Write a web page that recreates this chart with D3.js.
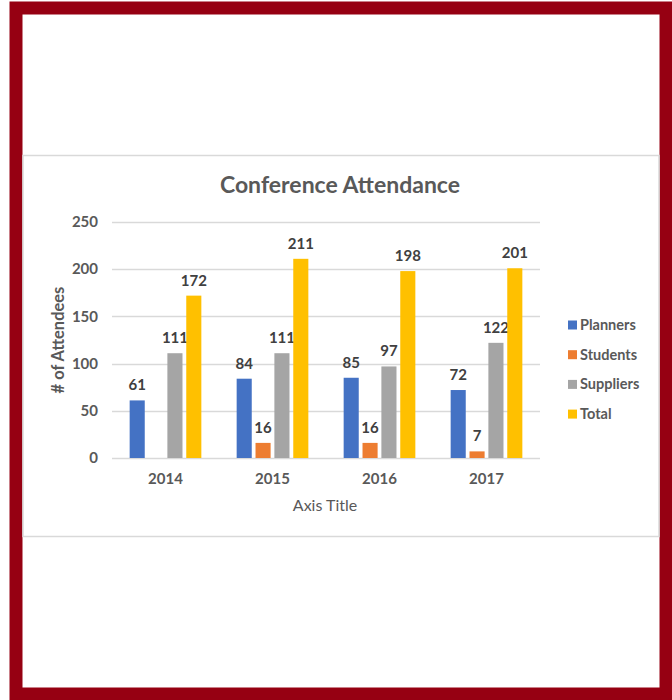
<!DOCTYPE html>
<html>
<head>
<meta charset="utf-8">
<script src="https://d3js.org/d3.v7.min.js"></script>
<style>
  body { margin: 0; background: #fff; }
  svg { display: block; }
  text { font-family: Lato, "Open Sans", sans-serif; }
</style>
</head>
<body>
<svg id="chart" width="672" height="700"></svg>
<script>
// chart data
const years = ["2014", "2015", "2016", "2017"];
const seriesNames = ["Planners", "Students", "Suppliers", "Total"];
const planners = [61, 84, 85, 72];
const students = [null, 16, 16, 7];
const suppliers = [111, 111, 97, 122];
const totals = [172, 211, 198, 201];
const yTicks = [0, 50, 100, 150, 200, 250];

const colors = ["#4472C4", "#ED7D31", "#A5A5A5", "#FFC000"];
const seriesValues = [planners, students, suppliers, totals];

const svg = d3.select("#chart");

// page frame (dark red border)
svg.append("rect")
    .attr("x", 16).attr("y", 8)
    .attr("width", 650).attr("height", 686)
    .attr("fill", "#fff")
    .attr("stroke", "#960012")
    .attr("stroke-width", 13);

// chart area box
svg.append("rect")
    .attr("x", 23).attr("y", 155.5)
    .attr("width", 636).attr("height", 381)
    .attr("fill", "#fff")
    .attr("stroke", "#d9d9d9")
    .attr("stroke-width", 1.5);

const plot = { left: 112, right: 540, top: 222, bottom: 458 };

const x0 = d3.scaleBand()
    .domain(years)
    .range([plot.left, plot.right])
    .paddingInner(0.33)
    .paddingOuter(0.165);

const x1 = d3.scaleBand()
    .domain(seriesNames)
    .range([0, x0.bandwidth()])
    .paddingInner(0.2);

const y = d3.scaleLinear()
    .domain([0, 250])
    .range([plot.bottom, plot.top]);

// gridlines
svg.append("g")
    .selectAll("line")
    .data(yTicks)
    .join("line")
    .attr("x1", plot.left).attr("x2", plot.right)
    .attr("y1", d => Math.round(y(d)) + 0.5)
    .attr("y2", d => Math.round(y(d)) + 0.5)
    .attr("stroke", "#d9d9d9")
    .attr("stroke-width", 1.5);

// y tick labels
svg.append("g")
    .selectAll("text")
    .data(yTicks)
    .join("text")
    .attr("x", 98)
    .attr("y", d => y(d))
    .attr("dy", "0.35em")
    .attr("text-anchor", "end")
    .attr("font-size", 15)
    .attr("font-weight", "bold")
    .attr("fill", "#595959")
    .text(d => d);

// bars + labels
seriesNames.forEach((name, si) => {
    const g = svg.append("g");
    const pts = years.map((yr, i) => ({ yr, v: seriesValues[si][i] })).filter(d => d.v != null);
    g.selectAll("rect")
        .data(pts)
        .join("rect")
        .attr("x", d => x0(d.yr) + x1(name))
        .attr("y", d => y(d.v))
        .attr("width", x1.bandwidth())
        .attr("height", d => y(0) - y(d.v))
        .attr("fill", colors[si]);
    g.selectAll("text")
        .data(pts)
        .join("text")
        .attr("x", d => x0(d.yr) + x1(name) + x1.bandwidth() / 2)
        .attr("y", d => y(d.v) - 10)
        .attr("text-anchor", "middle")
        .attr("font-size", 15)
        .attr("font-weight", "bold")
        .attr("fill", "#404040")
        .text(d => d.v);
});

// x tick labels
svg.append("g")
    .selectAll("text")
    .data(years)
    .join("text")
    .attr("x", d => x0(d) + x0.bandwidth() / 2)
    .attr("y", 484)
    .attr("text-anchor", "middle")
    .attr("font-size", 15)
    .attr("font-weight", "bold")
    .attr("fill", "#595959")
    .text(d => d);

// title
svg.append("text")
    .attr("x", 340).attr("y", 193)
    .attr("text-anchor", "middle")
    .attr("font-size", 23)
    .attr("font-weight", "bold")
    .attr("fill", "#595959")
    .text("Conference Attendance");

// axis titles
svg.append("text")
    .attr("x", 325).attr("y", 511)
    .attr("text-anchor", "middle")
    .attr("font-size", 16)
    .attr("fill", "#595959")
    .text("Axis Title");

svg.append("text")
    .attr("transform", "translate(64,340) rotate(-90)")
    .attr("text-anchor", "middle")
    .attr("font-size", 16.5)
    .attr("font-weight", "bold")
    .attr("fill", "#595959")
    .text("# of Attendees");

// legend
const legend = svg.append("g")
    .selectAll("g")
    .data(seriesNames)
    .join("g")
    .attr("transform", (d, i) => `translate(568,${325 + i * 29.7})`);

legend.append("rect")
    .attr("x", 0).attr("y", -4.5)
    .attr("width", 9).attr("height", 9)
    .attr("fill", (d, i) => colors[i]);

legend.append("text")
    .attr("x", 12)
    .attr("dy", "0.35em")
    .attr("font-size", 14.5)
    .attr("font-weight", "bold")
    .attr("fill", "#595959")
    .text(d => d);
</script>
</body>
</html>
